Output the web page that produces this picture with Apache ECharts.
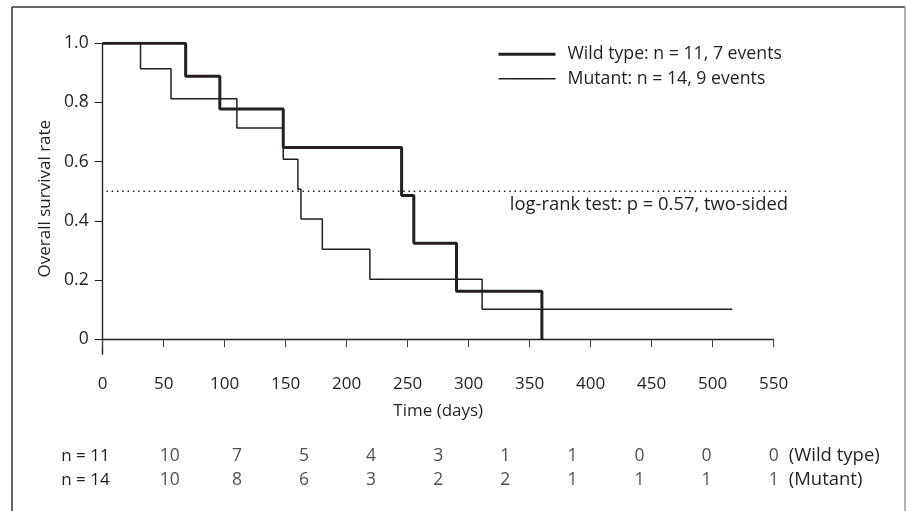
<!DOCTYPE html>
<html><head><meta charset="utf-8">
<script src="https://cdn.jsdelivr.net/npm/echarts@6/dist/echarts.min.js"></script>
<style>html,body{margin:0;padding:0;background:#fff}#c{width:906px;height:511px}</style>
</head><body><div id="c"></div>
<script>
// ---- data ----
const wildName = 'Wild type: n = 11, 7 events';
const mutName = 'Mutant: n = 14, 9 events';
const wildTimes = [0, 68, 96, 148, 245, 255, 290, 360];
const wildSurv  = [1, 0.889, 0.778, 0.648, 0.486, 0.324, 0.162, 0];
const mutTimes  = [0, 31, 56, 110, 148, 160, 162.5, 180, 219, 311, 516];
const mutSurv   = [1, 0.914, 0.813, 0.714, 0.608, 0.507, 0.406, 0.304, 0.203, 0.101, 0.101];
const yTicks = [0, 0.2, 0.4, 0.6, 0.8, 1.0];
const refTimes = [3, 562];
const refSurv = [0.5, 0.5];
const riskDays = [55, 110, 165, 220, 275, 330, 385, 440, 495, 550];
const wildRisk = [10, 7, 5, 4, 3, 1, 1, 0, 0, 0];
const mutRisk  = [10, 8, 6, 3, 2, 2, 1, 1, 1, 1];
const riskRows = ['n = 11', 'n = 14'];
const riskGroups = ['(Wild type)', '(Mutant)'];
const testText = 'log-rank test: p = 0.57, two-sided';

// ---- chart ----
const INK = '#231f20';
const FONT = 'Open Sans';
const pairs = (xs, ys) => xs.map((x, i) => [x, ys[i]]);
const chart = echarts.init(document.getElementById('c'), null, {renderer: 'canvas'});
const leftPx = 102.7, rightPx = 906 - 773.7, pxPerDay = (773.7 - 102.7) / 550;
const topPx = 43.3, bottomPx = 511 - 354;
chart.setOption({
  animation: false,
  backgroundColor: '#fff',
  textStyle: {fontFamily: FONT, color: INK},
  grid: [
    {left: leftPx, right: rightPx, top: topPx, bottom: bottomPx},
    {left: leftPx, right: rightPx, top: 444, height: 48},
    {left: leftPx, width: pxPerDay * refTimes[1], top: topPx, bottom: bottomPx}
  ],
  legend: {
    orient: 'vertical', left: 497, top: 45.3, itemWidth: 57, itemHeight: 14, itemGap: 6.4,
    padding: 0,
    data: [
      {name: wildName, lineStyle: {width: 3, color: INK}},
      {name: mutName, lineStyle: {width: 1.5, color: INK}}
    ],
    itemStyle: {opacity: 0},
    textStyle: {fontFamily: FONT, fontSize: 17.7, lineHeight: 18, color: INK, padding: [0, 0, 0, 7]},
    selectedMode: false
  },
  xAxis: [
    {type: 'value', gridIndex: 0, min: 0, max: 550, interval: 50,
     name: 'Time (days)', nameLocation: 'middle', nameGap: 49,
     nameTextStyle: {fontFamily: FONT, fontSize: 17, color: INK},
     axisLine: {lineStyle: {color: INK, width: 1.4}},
     axisTick: {length: 8, lineStyle: {color: '#444', width: 1}},
     axisLabel: {margin: 22, fontFamily: FONT, fontSize: 17, color: INK},
     splitLine: {show: false}},
    {type: 'value', gridIndex: 1, min: 0, max: 550, show: false},
    {type: 'value', gridIndex: 2, min: 0, max: refTimes[1], show: false}
  ],
  yAxis: [
    {type: 'value', gridIndex: 0, min: -0.05, max: 1,
     name: 'Overall survival rate', nameLocation: 'middle', nameGap: 48,
     nameTextStyle: {fontFamily: FONT, fontSize: 17, color: INK},
     axisLine: {show: true, lineStyle: {color: INK, width: 1.4}},
     axisTick: {show: true, length: 8, customValues: yTicks, lineStyle: {color: INK, width: 1}},
     axisLabel: {customValues: yTicks, margin: 14, fontFamily: FONT, fontSize: 17.5, color: INK,
       formatter: v => (Math.abs(v) < 1e-9 ? '0' : v.toFixed(1))},
     splitLine: {show: false}},
    {type: 'category', gridIndex: 1, position: 'left', data: riskRows, inverse: true,
     axisLine: {show: false}, axisTick: {show: false},
     axisLabel: {interval: 0, hideOverlap: false, margin: -7, align: 'right', fontFamily: FONT, fontSize: 17, lineHeight: 18, color: INK}},
    {type: 'category', gridIndex: 1, position: 'right', data: riskGroups, inverse: true,
     axisLine: {show: false}, axisTick: {show: false},
     axisLabel: {interval: 0, hideOverlap: false, margin: 15, align: 'left', fontFamily: FONT, fontSize: 18.5, lineHeight: 18, color: INK}},
    {type: 'value', gridIndex: 2, min: -0.05, max: 1, show: false}
  ],
  series: [
    {name: wildName, type: 'line', step: 'end', xAxisIndex: 0, yAxisIndex: 0,
     data: pairs(wildTimes, wildSurv), symbol: 'none', z: 3,
     lineStyle: {color: INK, width: 3}, itemStyle: {color: INK}},
    {name: mutName, type: 'line', step: 'end', xAxisIndex: 0, yAxisIndex: 0,
     data: pairs(mutTimes, mutSurv), symbol: 'none', z: 2,
     lineStyle: {color: INK, width: 1.5}, itemStyle: {color: INK}},
    {name: 'ref', type: 'line', xAxisIndex: 2, yAxisIndex: 3,
     data: pairs(refTimes, refSurv), symbol: 'none', silent: true,
     lineStyle: {color: INK, width: 1.5, type: [1.5, 3.8]}},
    {name: 'riskWild', type: 'scatter', xAxisIndex: 1, yAxisIndex: 1,
     data: riskDays.map((d, i) => [d, riskRows[0], wildRisk[i]]),
     symbolSize: 1, itemStyle: {color: 'rgba(0,0,0,0)'}, silent: true,
     label: {show: true, position: 'inside', fontFamily: FONT, fontSize: 17.5, color: INK,
       formatter: p => String(p.value[2])}},
    {name: 'riskMut', type: 'scatter', xAxisIndex: 1, yAxisIndex: 1,
     data: riskDays.map((d, i) => [d, riskRows[1], mutRisk[i]]),
     symbolSize: 1, itemStyle: {color: 'rgba(0,0,0,0)'}, silent: true,
     label: {show: true, position: 'inside', fontFamily: FONT, fontSize: 17.5, color: INK,
       formatter: p => String(p.value[2])}}
  ],
  graphic: [
    {type: 'text', right: 906 - 788, top: 196, silent: true,
     style: {text: testText, fontFamily: FONT, fontSize: 18.4, fill: INK}},
    {type: 'line', shape: {x1: 12, y1: 7, x2: 905, y2: 7}, style: {stroke: '#333', lineWidth: 1.5}, silent: true},
    {type: 'line', shape: {x1: 12, y1: 7, x2: 12, y2: 511}, style: {stroke: '#333', lineWidth: 1.5}, silent: true},
    {type: 'line', shape: {x1: 905, y1: 7, x2: 905, y2: 511}, style: {stroke: '#999', lineWidth: 1.5}, silent: true}
  ]
});
</script>
</body></html>
